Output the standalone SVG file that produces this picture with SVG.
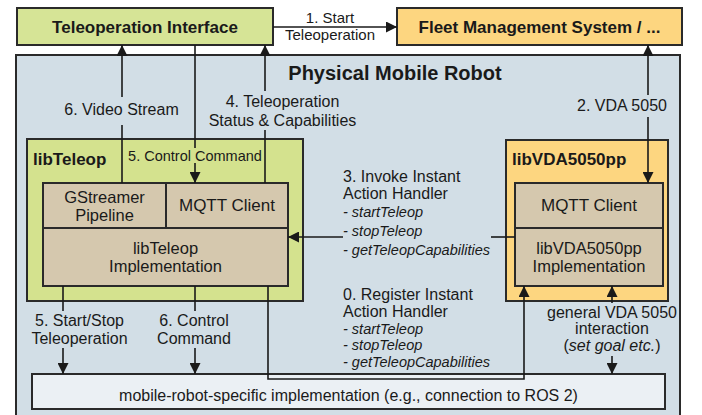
<svg xmlns="http://www.w3.org/2000/svg" width="702" height="415" viewBox="0 0 702 415">
<style>
.box{stroke:#2a2a2a;stroke-width:2}
.t{font-family:"Liberation Sans",Arial,sans-serif;fill:#1a1a1a}
.b{font-weight:bold;font-size:17px}
.n{font-size:16px}
.in{font-size:16.5px}
.i{font-size:14.5px;font-style:italic}
.c{text-anchor:middle}
.ln{fill:none;stroke:#1a1a1a;stroke-width:1.6}
</style>
<defs>
<marker id="ah" viewBox="0 0 10 10" refX="10" refY="5" markerWidth="11" markerHeight="11" markerUnits="userSpaceOnUse" orient="auto">
<path d="M0,0 L10,5 L0,10 z" fill="#1a1a1a"/>
</marker>
</defs>
<rect width="702" height="415" fill="#ffffff"/>
<g id="teleop-interface">
<rect class="box" x="17" y="8" width="256" height="37" fill="#d6e496"/>
<text class="t b c" x="145" y="33">Teleoperation Interface</text>
</g>
<g id="fleet">
<rect class="box" x="397" y="8" width="285" height="37" fill="#fdd680"/>
<text class="t b c" x="539.5" y="33">Fleet Management System / ...</text>
</g>
<g id="robot">
<rect class="box" x="16" y="55" width="664" height="380" fill="#d2dee6"/>
<text class="t c" x="395" y="80" font-size="20" font-weight="bold">Physical Mobile Robot</text>
</g>
<g id="libteleop">
<rect class="box" x="27" y="139" width="276" height="162" fill="#d4e28e"/>
<text class="t b" x="33" y="165">libTeleop</text>
</g>
<g id="gstreamer">
<rect class="box" x="43" y="183" width="123" height="45" fill="#d5c8ae"/>
<text class="t in c" x="104.5" y="203">GStreamer</text>
<text class="t in c" x="104.5" y="221">Pipeline</text>
</g>
<g id="teleop-mqtt">
<rect class="box" x="166" y="183" width="122" height="45" fill="#d5c8ae"/>
<text class="t c" font-size="17" x="227" y="211">MQTT Client</text>
</g>
<g id="teleop-impl">
<rect class="box" x="43" y="228" width="245" height="58" fill="#d5c8ae"/>
<text class="t in c" x="165.5" y="254">libTeleop</text>
<text class="t in c" x="165.5" y="272">Implementation</text>
</g>
<g id="libvda">
<rect class="box" x="506" y="140" width="162" height="161" fill="#fdd680"/>
<text class="t b" x="512" y="165">libVDA5050pp</text>
</g>
<g id="vda-mqtt">
<rect class="box" x="515" y="183" width="148" height="45" fill="#d5c8ae"/>
<text class="t c" font-size="17" x="589" y="211">MQTT Client</text>
</g>
<g id="vda-impl">
<rect class="box" x="515" y="228" width="148" height="58" fill="#d5c8ae"/>
<text class="t in c" x="589" y="254">libVDA5050pp</text>
<text class="t in c" x="589" y="272">Implementation</text>
</g>
<g id="mobile-impl">
<rect class="box" x="32" y="374" width="633" height="35" fill="#ebf0f4"/>
<text class="t n c" x="348.5" y="401">mobile-robot-specific implementation (e.g., connection to ROS 2)</text>
</g>
<g id="connectors">
<path class="ln" d="M273,27 H397" marker-end="url(#ah)"/>
<text class="t c" font-size="15" x="330" y="23">1. Start</text>
<text class="t c" font-size="15" x="330" y="40">Teleoperation</text>

<path class="ln" d="M648,95 V45" marker-end="url(#ah)"/>
<path class="ln" d="M648,117 V183" marker-end="url(#ah)"/>
<text class="t n c" x="622" y="111">2. VDA 5050</text>

<path class="ln" d="M122,183 V125"/>
<path class="ln" d="M122,97 V45" marker-end="url(#ah)"/>
<text class="t n c" x="121.5" y="115">6. Video Stream</text>

<path class="ln" d="M195,45 V148"/>
<path class="ln" d="M195,163 V183" marker-end="url(#ah)"/>
<text class="t c" font-size="14.5" x="195" y="161">5. Control Command</text>

<path class="ln" d="M265,183 V130"/>
<path class="ln" d="M265,91 V45" marker-end="url(#ah)"/>
<text class="t n c" x="282.5" y="107">4. Teleoperation</text>
<text class="t n c" x="282.5" y="126">Status &amp; Capabilities</text>

<path class="ln" d="M515,237 H491"/>
<path class="ln" d="M343,237 H288" marker-end="url(#ah)"/>
<text class="t n" x="343" y="182">3. Invoke Instant</text>
<text class="t n" x="343" y="199">Action Handler</text>
<text class="t i" x="343" y="217">- startTeleop</text>
<text class="t i" x="343" y="236">- stopTeleop</text>
<text class="t i" x="343" y="255">- getTeleopCapabilities</text>

<path class="ln" d="M268,286 V379 H524 V286" marker-end="url(#ah)"/>
<text class="t n" x="343" y="300">0. Register Instant</text>
<text class="t n" x="343" y="317">Action Handler</text>
<text class="t i" x="343" y="334">- startTeleop</text>
<text class="t i" x="343" y="350">- stopTeleop</text>
<text class="t i" x="343" y="367">- getTeleopCapabilities</text>

<path class="ln" d="M63,286 V311"/>
<path class="ln" d="M63,348 V374" marker-end="url(#ah)"/>
<text class="t n c" x="79.5" y="326">5. Start/Stop</text>
<text class="t n c" x="79.5" y="344">Teleoperation</text>

<path class="ln" d="M195,286 V311"/>
<path class="ln" d="M195,348 V374" marker-end="url(#ah)"/>
<text class="t n c" x="194" y="326">6. Control</text>
<text class="t n c" x="194" y="344">Command</text>

<path class="ln" d="M612,303 V286" marker-end="url(#ah)"/>
<path class="ln" d="M612,356 V374" marker-end="url(#ah)"/>
<text class="t n c" x="612" y="318">general VDA 5050</text>
<text class="t n c" x="612" y="334">interaction</text>
<text class="t n c" x="612" y="351">(<tspan font-style="italic">set goal etc.</tspan>)</text>
</g>
</svg>
